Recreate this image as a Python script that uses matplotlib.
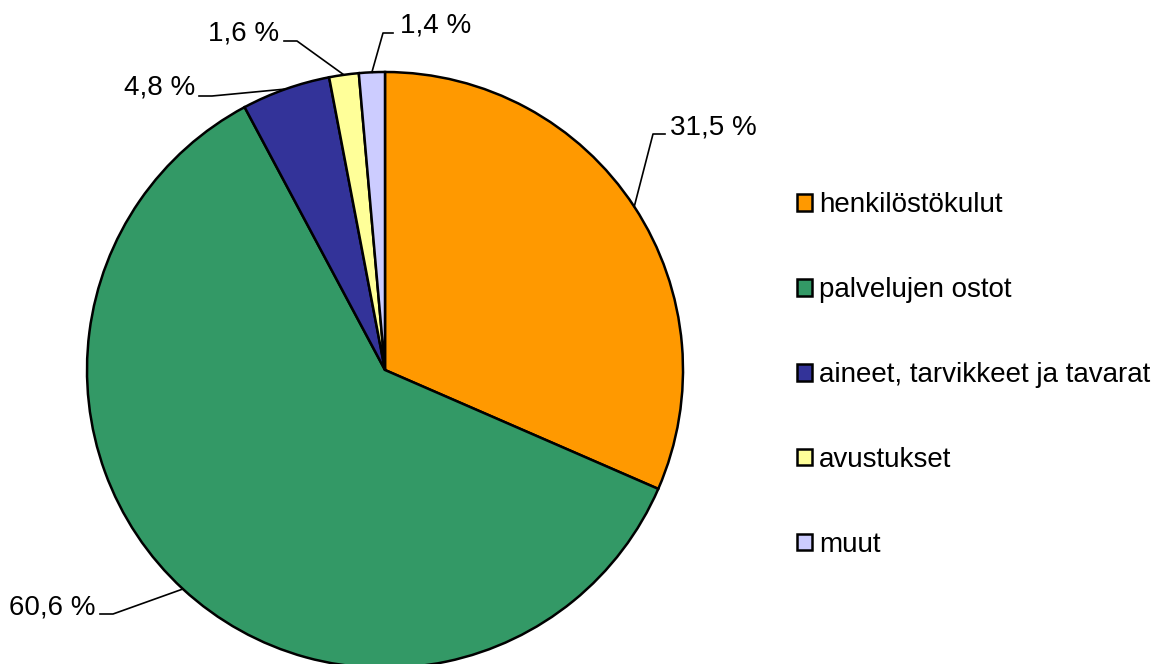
import matplotlib
matplotlib.use("Agg")
import matplotlib.pyplot as plt
import numpy as np

plt.rcParams['font.family'] = ['Liberation Sans', 'DejaVu Sans']

# data
categories = ["henkilöstökulut", "palvelujen ostot", "aineet, tarvikkeet ja tavarat",
              "avustukset", "muut"]
shares = [31.5, 60.6, 4.8, 1.6, 1.4]
value_labels = ["31,5 %", "60,6 %", "4,8 %", "1,6 %", "1,4 %"]
colors = ["#FF9900", "#339966", "#333399", "#FFFF99", "#CCCCFF"]

# label layout in pixels (elbow x, line end x, line y, text x, text y, ha)
label_layout = [
    (653, 665, 134, 670, 127, "left"),
    (113, 100, 614, 95, 607, "right"),
    (212, 199, 96, 195, 88, "right"),
    (297, 284, 41, 279, 33, "right"),
    (383, 393, 33, 400, 25, "left"),
]

W, H = 1163, 664
cx, cy, R = 385, 370, 298

fig = plt.figure(figsize=(W / 100, H / 100), dpi=100)
ax = fig.add_axes([(cx - R) / W, (H - cy - R) / H, 2 * R / W, 2 * R / H])

wedges, _ = ax.pie(shares, colors=colors, startangle=90, counterclock=False,
                   wedgeprops=dict(edgecolor="black", linewidth=1.8))
for w in wedges:
    w.set_clip_on(False)
ax.set_xlim(-1, 1)
ax.set_ylim(-1, 1)
ax.axis("off")


def px(x, y):
    # pixel position (from top-left) -> data units of the pie axes
    return (x - cx) / R, (cy - y) / R


for w, lab, (ex, hx, ly, tx, ty, ha) in zip(wedges, value_labels, label_layout):
    ang = np.deg2rad((w.theta1 + w.theta2) / 2)
    x0, y0 = np.cos(ang), np.sin(ang)
    x1, y1 = px(ex, ly)
    x2, y2 = px(hx, ly)
    ax.plot([x0, x1, x2], [y0, y1, y2], color="black", lw=1.2, clip_on=False)
    txx, tyy = px(tx, ty)
    ax.text(txx, tyy, lab, ha=ha, va="center", fontsize=20, clip_on=False)

fig.legend(wedges, categories, loc="center left",
           bbox_to_anchor=(797 / W, (H - 375) / H), frameon=False,
           fontsize=20, handlelength=0.55, handleheight=0.55,
           handletextpad=0.25, labelspacing=2.12, borderpad=0, borderaxespad=0)

fig.savefig("out.png", dpi=100)
